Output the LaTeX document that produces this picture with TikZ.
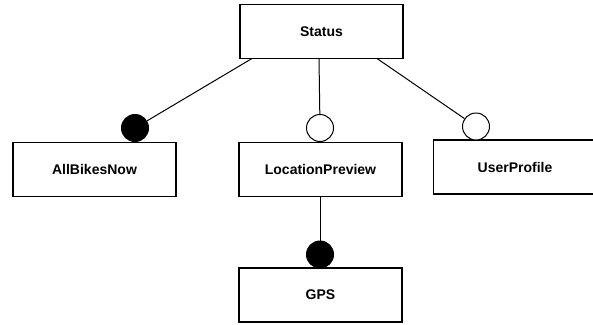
\documentclass[tikz,border=0pt]{standalone}
\usepackage{fontspec}
\setmainfont{Liberation Sans}
\begin{document}
\begin{tikzpicture}[x=1pt,y=-1pt,
  feat/.style={draw, line width=1.2pt, minimum width=163pt, minimum height=54pt, inner sep=0pt, font=\fontsize{14}{16}\selectfont\bfseries},
  mand/.style={circle, draw, fill=black, line width=1pt, minimum size=27pt, inner sep=0pt},
  opt/.style={circle, draw, fill=white, line width=1pt, minimum size=27pt, inner sep=0pt},
  conn/.style={line width=1pt}]
\useasboundingbox (0,0) rectangle (593,324);
\node[feat] (status) at (321.5,31.5) {Status};
\node[feat] (allbikes) at (94.5,169.5) {AllBikesNow};
\node[feat] (locprev) at (320.5,169.5) {LocationPreview};
\node[feat] (userprof) at (515,167) {UserProfile};
\node[feat] (gps) at (320.5,295) {GPS};
\node[mand] (c1) at (135,128) {};
\node[opt] (c2) at (320,128) {};
\node[opt] (c3) at (476,126.5) {};
\node[mand] (c4) at (320,254.5) {};
\coordinate (s1) at (252,58.5);
\coordinate (s2) at (319,58.5);
\coordinate (s3) at (377,58.5);
\draw[conn] (s1) -- (c1);
\draw[conn] (s2) -- (c2);
\draw[conn] (s3) -- (c3);
\draw[conn] (locprev.south -| c4) -- (c4);
\end{tikzpicture}
\end{document}
